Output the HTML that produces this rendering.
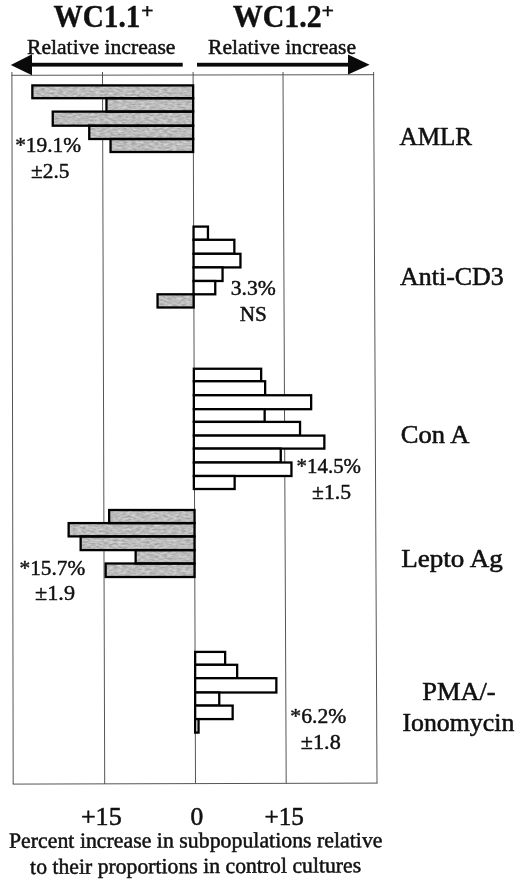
<!DOCTYPE html>
<html lang="en">
<head>
<meta charset="utf-8">
<title>WC1 subpopulation relative increase</title>
<style>
html,body{margin:0;padding:0;background:#fff;}
body{width:520px;height:882px;overflow:hidden;}
svg{display:block;}
svg text{font-family:"Liberation Serif","DejaVu Serif",serif;fill:#111;stroke:#111;stroke-linejoin:round;}
.grid line{stroke:#555;stroke-width:1;}
.bars rect{stroke:#000;stroke-width:2.3;}
</style>
</head>
<body>
<svg width="520" height="882" viewBox="0 0 520 882">
<defs>
<filter id="tex" x="0" y="0" width="100%" height="100%" color-interpolation-filters="sRGB">
<feTurbulence type="fractalNoise" baseFrequency="0.22 0.55" numOctaves="2" seed="7" result="t"/>
<feColorMatrix in="t" type="matrix" values="0.34 0 0 0 0.57  0.34 0 0 0 0.57  0.34 0 0 0 0.57  0 0 0 0 1" result="g"/>
<feComposite in="g" in2="SourceGraphic" operator="in"/>
</filter>
<filter id="soft" x="-2%" y="-2%" width="104%" height="104%" color-interpolation-filters="sRGB">
<feGaussianBlur stdDeviation="0.42"/>
</filter>
</defs>
<rect x="0" y="0" width="520" height="882" fill="#fff"/>
<g filter="url(#soft)">
<g class="grid">
<line x1="11.9" y1="72" x2="13.2" y2="784"/>
<line x1="102.5" y1="72" x2="104.7" y2="784"/>
<line x1="193.1" y1="72" x2="195.5" y2="783.8"/>
<line x1="283" y1="72" x2="286.2" y2="783.5"/>
<line x1="373.6" y1="72" x2="377" y2="783.2"/>
<line x1="11.4" y1="75.3" x2="374.1" y2="74.7"/>
<line x1="12.7" y1="784.1" x2="377.5" y2="783.1"/>
</g>
<g class="arrows" fill="#0a0a0a">
<rect x="30" y="62.8" width="152.7" height="3.8"/>
<polygon points="10.8,65 32,54.3 32,75.2"/>
<rect x="197" y="62.8" width="153" height="3.8"/>
<polygon points="369.6,64.75 348,54.4 348,74.6"/>
</g>

<g class="fills" fill="#bcbcbc" filter="url(#tex)">
<rect x="32.35" y="85.40" width="160.80" height="12.80"/>
<rect x="106.45" y="98.20" width="86.70" height="13.40"/>
<rect x="52.75" y="111.60" width="140.40" height="14.10"/>
<rect x="89.25" y="125.70" width="103.90" height="13.30"/>
<rect x="110.55" y="139.00" width="82.60" height="13.00"/>
<rect x="157.55" y="294.30" width="36.10" height="13.20"/>
<rect x="109.15" y="510.00" width="85.40" height="13.10"/>
<rect x="68.65" y="523.10" width="125.90" height="13.30"/>
<rect x="80.65" y="536.40" width="113.90" height="13.70"/>
<rect x="135.65" y="550.10" width="58.90" height="13.40"/>
<rect x="105.65" y="563.50" width="88.90" height="13.50"/>
</g>
<g class="bars">
<rect x="32.35" y="85.40" width="160.80" height="12.80" fill="none"/>
<rect x="106.45" y="98.20" width="86.70" height="13.40" fill="none"/>
<rect x="52.75" y="111.60" width="140.40" height="14.10" fill="none"/>
<rect x="89.25" y="125.70" width="103.90" height="13.30" fill="none"/>
<rect x="110.55" y="139.00" width="82.60" height="13.00" fill="none"/>
<rect x="193.55" y="226.60" width="14.40" height="13.20" fill="#fff"/>
<rect x="193.55" y="239.80" width="40.80" height="14.00" fill="#fff"/>
<rect x="193.55" y="253.80" width="46.90" height="13.60" fill="#fff"/>
<rect x="193.55" y="267.40" width="29.00" height="13.60" fill="#fff"/>
<rect x="193.55" y="281.00" width="21.70" height="13.30" fill="#fff"/>
<rect x="157.55" y="294.30" width="36.10" height="13.20" fill="none"/>
<rect x="193.85" y="368.75" width="67.30" height="12.50" fill="#fff"/>
<rect x="193.85" y="381.25" width="71.30" height="14.00" fill="#fff"/>
<rect x="193.85" y="395.25" width="117.30" height="13.95" fill="#fff"/>
<rect x="193.85" y="409.20" width="70.80" height="12.70" fill="#fff"/>
<rect x="193.85" y="421.90" width="106.20" height="13.70" fill="#fff"/>
<rect x="193.85" y="435.60" width="130.50" height="13.00" fill="#fff"/>
<rect x="193.85" y="448.60" width="86.90" height="13.90" fill="#fff"/>
<rect x="193.85" y="462.50" width="97.60" height="13.50" fill="#fff"/>
<rect x="193.85" y="476.00" width="40.80" height="13.00" fill="#fff"/>
<rect x="109.15" y="510.00" width="85.40" height="13.10" fill="none"/>
<rect x="68.65" y="523.10" width="125.90" height="13.30" fill="none"/>
<rect x="80.65" y="536.40" width="113.90" height="13.70" fill="none"/>
<rect x="135.65" y="550.10" width="58.90" height="13.40" fill="none"/>
<rect x="105.65" y="563.50" width="88.90" height="13.50" fill="none"/>
<rect x="195.15" y="651.90" width="30.00" height="12.90" fill="#fff"/>
<rect x="195.15" y="664.80" width="42.00" height="13.40" fill="#fff"/>
<rect x="195.15" y="678.20" width="81.20" height="14.30" fill="#fff"/>
<rect x="195.15" y="692.50" width="24.10" height="13.10" fill="#fff"/>
<rect x="195.15" y="705.60" width="37.50" height="13.50" fill="#fff"/>
<rect x="195.15" y="719.10" width="3.40" height="13.50" fill="#fff"/>
</g>
<g class="labels">
<text x="53.41" y="26.5" font-size="30.5" text-anchor="start" font-weight="bold" stroke-width="0.4" textLength="86.97" lengthAdjust="spacingAndGlyphs">WC1.1</text>
<text x="140.99" y="17.7" font-size="22" text-anchor="start" font-weight="bold" stroke-width="0.4" textLength="12.61" lengthAdjust="spacingAndGlyphs">+</text>
<text x="232.82" y="26.5" font-size="30.5" text-anchor="start" font-weight="bold" stroke-width="0.4" textLength="88.97" lengthAdjust="spacingAndGlyphs">WC1.2</text>
<text x="321.62" y="17.8" font-size="22" text-anchor="start" font-weight="bold" stroke-width="0.4" textLength="12.55" lengthAdjust="spacingAndGlyphs">+</text>
<text x="26.94" y="53.75" font-size="21.7" text-anchor="start" font-weight="normal" stroke-width="0.48" textLength="148.51" lengthAdjust="spacingAndGlyphs">Relative increase</text>
<text x="208.00" y="54.0" font-size="21.7" text-anchor="start" font-weight="normal" stroke-width="0.48" textLength="148.07" lengthAdjust="spacingAndGlyphs">Relative increase</text>
<text x="15.13" y="151.7" font-size="21.7" text-anchor="start" font-weight="normal" stroke-width="0.48" textLength="65.88" lengthAdjust="spacingAndGlyphs">*19.1%</text>
<text x="31.08" y="178.2" font-size="21.7" text-anchor="start" font-weight="normal" stroke-width="0.48" textLength="38.39" lengthAdjust="spacingAndGlyphs">±2.5</text>
<text x="230.66" y="294.8" font-size="21.7" text-anchor="start" font-weight="normal" stroke-width="0.48" textLength="45.09" lengthAdjust="spacingAndGlyphs">3.3%</text>
<text x="239.66" y="321.3" font-size="21.7" text-anchor="start" font-weight="normal" stroke-width="0.48" textLength="27.23" lengthAdjust="spacingAndGlyphs">NS</text>
<text x="296.59" y="473.2" font-size="21.7" text-anchor="start" font-weight="normal" stroke-width="0.48" textLength="64.42" lengthAdjust="spacingAndGlyphs">*14.5%</text>
<text x="312.07" y="498.7" font-size="21.7" text-anchor="start" font-weight="normal" stroke-width="0.48" textLength="38.94" lengthAdjust="spacingAndGlyphs">±1.5</text>
<text x="19.56" y="575.1" font-size="21.7" text-anchor="start" font-weight="normal" stroke-width="0.48" textLength="65.69" lengthAdjust="spacingAndGlyphs">*15.7%</text>
<text x="35.06" y="600.0" font-size="21.7" text-anchor="start" font-weight="normal" stroke-width="0.48" textLength="39.94" lengthAdjust="spacingAndGlyphs">±1.9</text>
<text x="290.34" y="722.6" font-size="21.7" text-anchor="start" font-weight="normal" stroke-width="0.48" textLength="55.94" lengthAdjust="spacingAndGlyphs">*6.2%</text>
<text x="300.87" y="748.5" font-size="21.7" text-anchor="start" font-weight="normal" stroke-width="0.48" textLength="39.86" lengthAdjust="spacingAndGlyphs">±1.8</text>
<text x="399.55" y="144.6" font-size="26" text-anchor="start" font-weight="normal" stroke-width="0.57" textLength="72.45" lengthAdjust="spacingAndGlyphs">AMLR</text>
<text x="400.09" y="284.9" font-size="26" text-anchor="start" font-weight="normal" stroke-width="0.57" textLength="103.61" lengthAdjust="spacingAndGlyphs">Anti-CD3</text>
<text x="400.83" y="442.5" font-size="26" text-anchor="start" font-weight="normal" stroke-width="0.57" textLength="68.60" lengthAdjust="spacingAndGlyphs">Con A</text>
<text x="401.27" y="567.1" font-size="26" text-anchor="start" font-weight="normal" stroke-width="0.57" textLength="101.49" lengthAdjust="spacingAndGlyphs">Lepto Ag</text>
<text x="422.27" y="699.9" font-size="26" text-anchor="start" font-weight="normal" stroke-width="0.57" textLength="73.37" lengthAdjust="spacingAndGlyphs">PMA/-</text>
<text x="402.44" y="731.1" font-size="26" text-anchor="start" font-weight="normal" stroke-width="0.57" textLength="111.86" lengthAdjust="spacingAndGlyphs">Ionomycin</text>
<text x="80.90" y="825.4" font-size="26" text-anchor="start" font-weight="normal" stroke-width="0.57" textLength="40.84" lengthAdjust="spacingAndGlyphs">+15</text>
<text x="190.39" y="825.4" font-size="26" text-anchor="start" font-weight="normal" stroke-width="0.57" textLength="12.74" lengthAdjust="spacingAndGlyphs">0</text>
<text x="264.52" y="825.4" font-size="26" text-anchor="start" font-weight="normal" stroke-width="0.57" textLength="39.42" lengthAdjust="spacingAndGlyphs">+15</text>
<text x="8.94" y="847.8" font-size="21.7" text-anchor="start" font-weight="normal" stroke-width="0.48" textLength="373.56" lengthAdjust="spacingAndGlyphs" transform="rotate(-0.1 8.94 847.8)">Percent increase in subpopulations relative</text>
<text x="30.13" y="873.9" font-size="21.7" text-anchor="start" font-weight="normal" stroke-width="0.48" textLength="331.02" lengthAdjust="spacingAndGlyphs" transform="rotate(-0.27 30.13 873.9)">to their proportions in control cultures</text>
</g>
</g>
</svg>
</body>
</html>
